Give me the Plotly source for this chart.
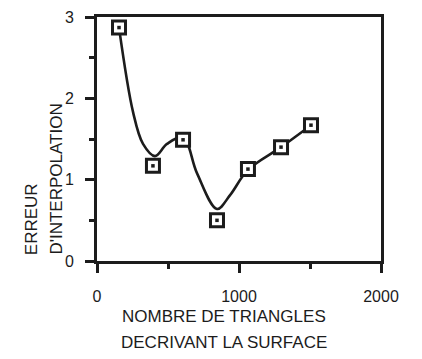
import plotly.graph_objects as go

# measured points (number of triangles vs interpolation error)
n_triangles = [155, 394, 606, 845, 1063, 1296, 1507]
erreur = [2.87, 1.17, 1.49, 0.50, 1.13, 1.40, 1.67]

# smooth fitted curve, knots
curve_x = [155, 254, 324, 408, 493, 606, 704, 845, 937, 1063, 1296, 1507]
curve_y = [2.87, 1.83, 1.44, 1.29, 1.44, 1.52, 1.08, 0.64, 0.81, 1.12, 1.40, 1.67]

x_ticks = [0, 1000, 2000]
y_ticks = [0, 1, 2, 3]

ink = "#1c1c1c"
font = dict(family="Liberation Sans, Arial, sans-serif", size=16, color=ink)
title_font = dict(font, size=17)

fig = go.Figure()

fig.add_trace(go.Scatter(
    x=curve_x, y=curve_y, mode="lines",
    line=dict(color=ink, width=2.6, shape="spline", smoothing=1.0),
    hoverinfo="skip",
))
fig.add_trace(go.Scatter(
    x=n_triangles, y=erreur, mode="markers",
    marker=dict(symbol="square", size=13, color="white",
                line=dict(color=ink, width=3)),
))
fig.add_trace(go.Scatter(
    x=n_triangles, y=erreur, mode="markers",
    marker=dict(symbol="square", size=3.5, color=ink),
    hoverinfo="skip",
))

axis_common = dict(
    showgrid=False, zeroline=False, showline=True, mirror=True,
    linecolor=ink, linewidth=2.6,
    ticks="outside", tickwidth=2.6, tickcolor=ink, ticklen=9,
    tickfont=font,
)

fig.update_xaxes(
    range=[0, 2000], tickvals=x_ticks, ticktext=[str(v) for v in x_ticks],
    minor=dict(ticks="outside", dtick=500, ticklen=5, tickwidth=2.6, tickcolor=ink),
    ticklabelstandoff=10,
    **axis_common,
)
fig.update_yaxes(
    range=[0, 3], tickvals=y_ticks, ticktext=[str(v) for v in y_ticks],
    minor=dict(ticks="outside", dtick=0.5, ticklen=5, tickwidth=2.6, tickcolor=ink),
    ticklabelstandoff=8,
    **axis_common,
)

# axis titles, hand placed like the lettering in the original
fig.add_annotation(text="NOMBRE DE TRIANGLES", xref="x", yref="paper",
                   x=894, y=-0.226, showarrow=False, font=title_font,
                   xanchor="center", yanchor="middle")
fig.add_annotation(text="DECRIVANT LA SURFACE", xref="x", yref="paper",
                   x=894, y=-0.333, showarrow=False, font=title_font,
                   xanchor="center", yanchor="middle")
fig.add_annotation(text="ERREUR", xref="paper", yref="y",
                   x=-0.228, y=0.05, textangle=-90, showarrow=False, font=title_font,
                   xanchor="center", yanchor="bottom")
fig.add_annotation(text="D'INTERPOLATION", xref="paper", yref="y",
                   x=-0.144, y=0.05, textangle=-90, showarrow=False, font=title_font,
                   xanchor="center", yanchor="bottom")

fig.update_layout(
    width=422, height=359,
    margin=dict(l=97, r=41, t=9, b=98),
    paper_bgcolor="white", plot_bgcolor="white",
    showlegend=False, font=font,
)

# pin the graph div to the page corner (no body margin offset)
pin = ("var d = document.getElementById('{plot_id}');"
       "d.style.position = 'fixed'; d.style.left = '0px'; d.style.top = '0px';")
fig.write_html("out.html", post_script=pin, config={"displayModeBar": False})
